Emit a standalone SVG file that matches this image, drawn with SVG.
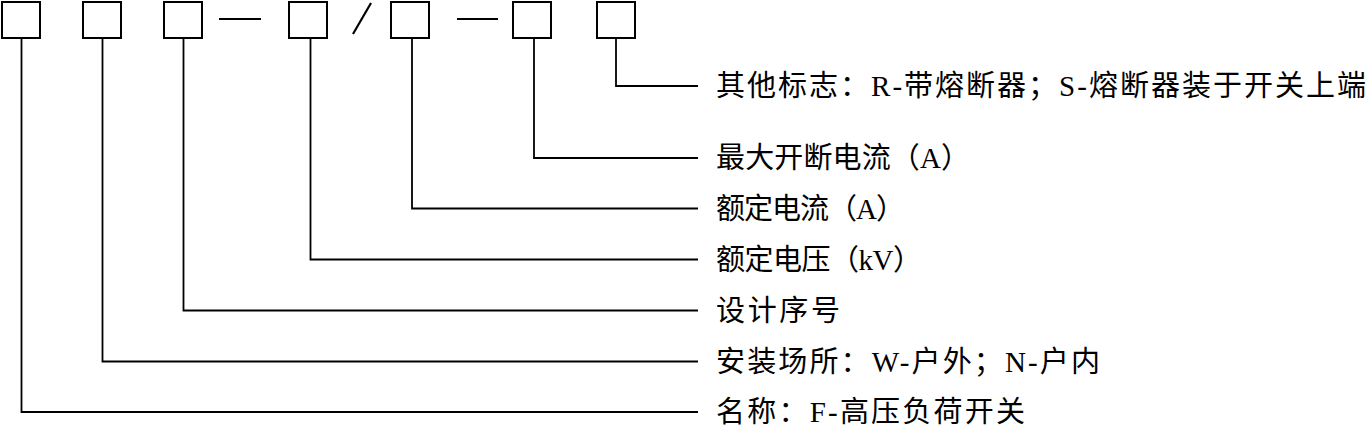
<svg xmlns="http://www.w3.org/2000/svg" width="1369" height="427" viewBox="0 0 1369 427">
<style>
.box{fill:#fff;stroke:#000;stroke-width:2}
.ln{fill:none;stroke:#000;stroke-width:1.8}
.sep{fill:none;stroke:#000;stroke-width:2.2}
.t{font-family:"Liberation Serif","Noto Sans CJK SC",serif;font-size:29px;fill:#000}
</style>
<rect width="1369" height="427" fill="#fff"/>
<g id="box1"><rect class="box" x="2" y="2" width="38" height="36"/></g>
<g id="box2"><rect class="box" x="83" y="2" width="38" height="36"/></g>
<g id="box3"><rect class="box" x="164" y="2" width="38" height="36"/></g>
<g id="box4"><rect class="box" x="289" y="2" width="38" height="36"/></g>
<g id="box5"><rect class="box" x="391" y="2" width="38" height="36"/></g>
<g id="box6"><rect class="box" x="513" y="2" width="38" height="36"/></g>
<g id="box7"><rect class="box" x="597" y="2" width="38" height="36"/></g>
<g id="separators">
<line class="sep" x1="219" y1="19" x2="261" y2="19"/>
<line class="sep" x1="353" y1="34" x2="371" y2="3"/>
<line class="sep" x1="457" y1="19" x2="498" y2="19"/>
</g>
<g id="connectors">
<polyline class="ln" points="616,38 616,86 698,86"/>
<polyline class="ln" points="534,38 534,158 698,158"/>
<polyline class="ln" points="412,38 412,208.5 698,208.5"/>
<polyline class="ln" points="310.5,38 310.5,259.5 698,259.5"/>
<polyline class="ln" points="183.5,38 183.5,310.5 698,310.5"/>
<polyline class="ln" points="102.5,38 102.5,361.5 698,361.5"/>
<polyline class="ln" points="21.5,38 21.5,412 698,412"/>
</g>
<g id="labels">
<text class="t" x="716" y="96" textLength="650">其他标志：R-带熔断器；S-熔断器装于开关上端</text>
<text class="t" x="716" y="168" textLength="254">最大开断电流（A）</text>
<text class="t" x="716" y="218.5" textLength="189">额定电流（A）</text>
<text class="t" x="716" y="269.5" textLength="206">额定电压（kV）</text>
<text class="t" x="716" y="320.5" textLength="124">设计序号</text>
<text class="t" x="716" y="371.5" textLength="384">安装场所：W-户外；N-户内</text>
<text class="t" x="716" y="422" textLength="309">名称：F-高压负荷开关</text>
</g>
</svg>
